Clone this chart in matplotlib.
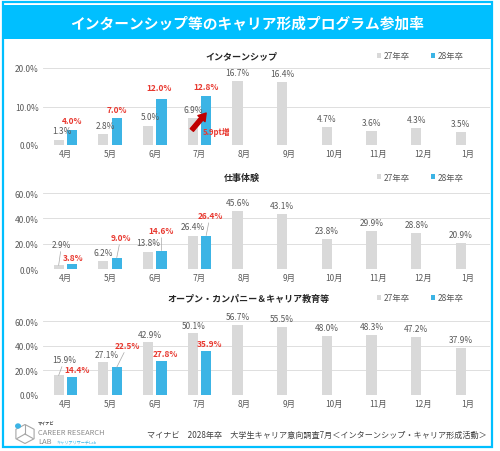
import matplotlib.pyplot as plt
from matplotlib.patches import Rectangle, RegularPolygon, Circle
from matplotlib.lines import Line2D

plt.rcParams['font.family'] = ['Noto Sans CJK JP', 'DejaVu Sans']

# data
months = ['4月', '5月', '6月', '7月', '8月', '9月', '10月', '11月', '12月', '1月']
series_names = ['27年卒', '28年卒']
panel_titles = ['インターンシップ', '仕事体験', 'オープン・カンパニー＆キャリア教育等']

intern_27 = [1.3, 2.8, 5.0, 6.9, 16.7, 16.4, 4.7, 3.6, 4.3, 3.5]
intern_28 = [4.0, 7.0, 12.0, 12.8]
work_27 = [2.9, 6.2, 13.8, 26.4, 45.6, 43.1, 23.8, 29.9, 28.8, 20.9]
work_28 = [3.8, 9.0, 14.6, 26.4]
open_27 = [15.9, 27.1, 42.9, 50.1, 56.7, 55.5, 48.0, 48.3, 47.2, 37.9]
open_28 = [14.4, 22.5, 27.8, 35.9]

GREY = '#D9D9D9'
BLUE = '#3CB4E5'
RED = '#E8382F'
TXT = '#595959'
FRAME = '#00BFFF'

fig = plt.figure(figsize=(5, 4.52), dpi=100)

def fx(px):
    return px / 500

def fy(py):
    return 1 - py / 452

# banner + frame
fig.patches.append(Rectangle((fx(3), fy(448)), fx(489), 445 / 452, transform=fig.transFigure,
                             fill=False, ec=FRAME, lw=1.6))
fig.patches.append(Rectangle((fx(2), fy(40)), fx(491), 34 / 452, transform=fig.transFigure,
                             fc=FRAME, ec='none'))
fig.text(fx(247), fy(23), 'インターンシップ等のキャリア形成プログラム参加率', color='white',
         fontsize=10.6, fontweight='bold', ha='center', va='center')

# panel layout: (axes top px, axes bottom px, ymax, ticks, title x px, header y px)
layout = [
    (69, 146, 20, [0, 10, 20], 241.5, 57),
    (194, 270, 60, [0, 20, 40, 60], 241.5, 178),
    (322, 396, 60, [0, 20, 40, 60], 248.5, 299),
]
data = [(intern_27, intern_28), (work_27, work_28), (open_27, open_28)]

# label offsets in pixels (dx, dy, leader line) where they differ from default
grey_off = [
    {0: (3, 9, False), 1: (2, 9, False), 2: (2, 9, False), 3: (1, 9, False)},
    {0: (3, 21, True), 2: (0, 9, False), 3: (0, 8.6, False)},
    {0: (6, 16, True), 1: (3, 7, False), 2: (2, 8, False), 3: (1, 7.5, False)},
]
blue_off = [
    {2: (-2, 11, False)},
    {0: (1, 7, False), 1: (4, 20, True), 2: (0, 20, True), 3: (4, 20, True)},
    {0: (4.6, 7.5, False), 1: (11, 22, True), 2: (3.5, 7.4, False), 3: (3, 7.4, False)},
]

w = 0.23
off = 0.15
x = list(range(len(months)))

for p, (top, bot, ymax, ticks, tx, hy) in enumerate(layout):
    ax = fig.add_axes([fx(43), fy(bot), fx(447), (bot - top) / 452])
    s27, s28 = data[p]
    xg = [i - off for i in x]
    xb = [i + off for i in range(len(s28))]
    ax.bar(xg, s27, width=w, color=GREY, zorder=2)
    ax.bar(xb, s28, width=w, color=BLUE, zorder=2)
    ax.set_xlim(-0.5, 9.5)
    ax.set_ylim(0, ymax)
    ax.set_yticks(ticks)
    ax.set_yticklabels([f'{t:.1f}%' for t in ticks])
    ax.set_xticks(x)
    ax.set_xticklabels(months)
    ax.tick_params(length=0, labelsize=6, labelcolor=TXT, pad=3)
    for s in ax.spines.values():
        s.set_visible(False)
    ax.grid(axis='y', color=GREY, lw=0.6)
    ax.set_axisbelow(True)

    for i, v in enumerate(s27):
        dx, dy, lead = grey_off[p].get(i, (0, 8.5, False))
        ap = dict(arrowstyle='-', color='#A6A6A6', lw=0.5, shrinkA=0, shrinkB=0) if lead else None
        ax.annotate(f'{v:.1f}%', xy=(xg[i], v), xytext=(dx, dy), textcoords='offset pixels',
                    ha='center', va='center', fontsize=6, color=TXT, arrowprops=ap,
                    annotation_clip=False)
    for i, v in enumerate(s28):
        dx, dy, lead = blue_off[p].get(i, (0, 9, False))
        ap = dict(arrowstyle='-', color='#A6A6A6', lw=0.5, shrinkA=0, shrinkB=0) if lead else None
        ax.annotate(f'{v:.1f}%', xy=(xb[i], v), xytext=(dx, dy), textcoords='offset pixels',
                    ha='center', va='center', fontsize=6, color=RED, fontweight='bold',
                    arrowprops=ap, annotation_clip=False)

    fig.text(fx(tx), fy(hy), panel_titles[p], fontsize=6.5, fontweight='bold',
             color='#262626', ha='center', va='center')
    handles = [Rectangle((0, 0), 1, 1, fc=GREY), Rectangle((0, 0), 1, 1, fc=BLUE)]
    ax.legend(handles, series_names, loc='center right', bbox_to_anchor=(fx(468), fy(hy)),
              bbox_transform=fig.transFigure, ncol=2, frameon=False, fontsize=6,
              handlelength=0.5, handleheight=0.5, handletextpad=0.3, columnspacing=2.6,
              labelcolor=TXT, borderpad=0)

    if p == 0:
        # increase arrow for July
        ax.annotate('', xy=(3 + off, 8.3), xytext=(3 - off - 0.02, 3.9),
                    arrowprops=dict(arrowstyle='simple,head_length=0.7,head_width=0.9,tail_width=0.4',
                                    color='#C00000', mutation_scale=7.5, shrinkA=0, shrinkB=0))
        ax.text(3.39, 3.4, '5.9pt増', fontsize=5.6, fontweight='bold', color=RED,
                ha='center', va='center')

# footer
fig.text(fx(316.5), fy(435), 'マイナビ　2028年卒　大学生キャリア意向調査7月＜インターンシップ・キャリア形成活動＞',
         fontsize=5.85, color='#404040', ha='center', va='center')

# logo
fig.patches.append(RegularPolygon((fx(25), fy(435)), numVertices=6, radius=0.021,
                                  transform=fig.transFigure, fill=False, ec='#A6A6A6', lw=0.8))
for ex, ey in [(25, 425.5), (17, 439.5), (33, 439.5)]:
    fig.lines.append(Line2D([fx(25), fx(ex)], [fy(435), fy(ey)], transform=fig.transFigure,
                            color='#A6A6A6', lw=0.8))
fig.patches.append(Circle((fx(18), fy(427)), 0.006, transform=fig.transFigure, fc=BLUE, ec='none'))
fig.text(fx(38), fy(424), 'マイナビ', fontsize=3, fontweight='bold', color='#404040', va='center')
fig.text(fx(38), fy(433), 'CAREER RESEARCH', fontsize=5.4, color='#8C8C8C', va='center')
fig.text(fx(38), fy(442), 'LAB', fontsize=5.4, color='#8C8C8C', va='center')
fig.text(fx(57), fy(442), 'キャリアリサーチLab', fontsize=3, color=BLUE, va='center')

fig.savefig('out.png', dpi=100)
